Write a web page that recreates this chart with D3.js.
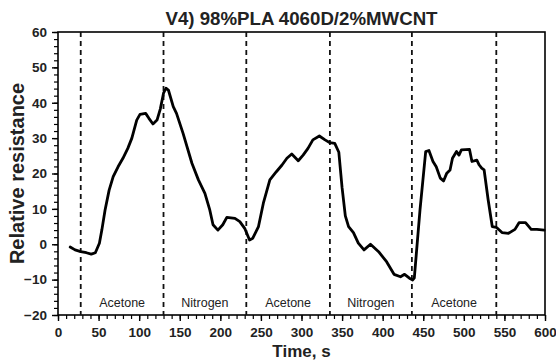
<!DOCTYPE html>
<html>
<head>
<meta charset="utf-8">
<script src="https://cdn.jsdelivr.net/npm/d3@7"></script>
<style>
  body { margin: 0; background: #fff; }
  svg { font-family: "Liberation Sans", Arial, sans-serif; }
</style>
</head>
<body>
<svg id="chart" width="556" height="360"></svg>
<script>
// time (s) and relative resistance
const timeS = [15, 21, 28, 35, 41, 46, 51, 54, 58, 63, 68, 74, 80, 86, 91, 97, 101, 108, 112, 117,
  122, 126, 130, 133, 136, 142, 146, 154, 165, 173, 181, 187, 191, 197, 203, 208, 218, 224, 230, 236,
  240, 247, 253, 261, 269, 276, 282, 288, 296, 302, 308, 314, 322, 329, 335, 341, 346, 350, 354, 358,
  364, 370, 377, 385, 395, 405, 414, 422, 427, 433, 437, 439, 446, 453, 457, 462, 466, 471, 475, 479,
  483, 486, 491, 494, 497, 507, 510, 516, 519, 522, 525, 530, 535, 540, 547, 555, 563, 568, 576, 583,
  590, 599];
const resistance = [-0.8, -1.6, -2.1, -2.4, -2.8, -2.4, 0.3, 4, 9.7, 15.3, 19.1, 21.9, 24.3, 27.1, 30, 35.1, 36.7, 37, 35.6, 34,
  35.1, 38.2, 42.7, 44.1, 43.6, 38.9, 37, 31.4, 22.9, 18.2, 14.4, 9.7, 5.5, 4, 5.5, 7.6, 7.3, 6.4, 4.5, 1.2,
  1.7, 5, 11.6, 18.2, 20.5, 22.4, 24.3, 25.5, 23.6, 25.2, 27.1, 29.5, 30.6, 29.5, 28.7, 28.5, 26, 16, 8, 5,
  3.3, 0.3, -1.6, 0, -2.1, -5, -8.5, -9.2, -8.5, -9.6, -10.1, -9.5, 9.7, 26.2, 26.5, 23.4, 21.9, 18.7, 17.9, 20.1,
  21, 24.3, 26.2, 25.2, 26.7, 26.8, 23.4, 23.8, 22.4, 21.5, 21, 12.5, 5, 4.8, 3.3, 3.1, 4.2, 6.1, 6.1, 4.2,
  4.2, 4.0];

// gas switch times and phase names
const switchTimes = [28, 130, 232, 335, 436, 540];
const phaseNames = ["Acetone", "Nitrogen", "Acetone", "Nitrogen", "Acetone"];

const xTicks = d3.range(0, 601, 50);
const yTicks = d3.range(-20, 61, 10);

const margin = {top: 32, right: 11, bottom: 45, left: 58};
const width = 556, height = 360;

const svg = d3.select("#chart");

const x = d3.scaleLinear().domain([0, 600]).range([margin.left, width - margin.right]);
const y = d3.scaleLinear().domain([-20, 60]).range([height - margin.bottom, margin.top]);

// minor ticks
const xAxisMinor = d3.axisBottom(x).tickValues(d3.range(0, 601, 10)).tickSize(4).tickFormat("");
const yAxisMinor = d3.axisLeft(y).tickValues(d3.range(-20, 61, 2)).tickSize(4).tickFormat("");

svg.append("g")
    .attr("transform", `translate(0,${y(-20)})`)
    .call(xAxisMinor)
    .call(g => g.select(".domain").remove())
    .selectAll("line").attr("stroke-width", 1.2);

svg.append("g")
    .attr("transform", `translate(${x(0)},0)`)
    .call(yAxisMinor)
    .call(g => g.select(".domain").remove())
    .selectAll("line").attr("stroke-width", 1.2);

// major ticks + labels
svg.append("g")
    .attr("transform", `translate(0,${y(-20)})`)
    .call(d3.axisBottom(x).tickValues(xTicks).tickSize(6).tickPadding(6))
    .call(g => g.select(".domain").remove())
    .call(g => g.selectAll("line").attr("stroke-width", 1.4))
    .call(g => g.selectAll("text")
        .attr("font-size", 13.5).attr("font-weight", "bold").attr("fill", "#222")
        .attr("font-family", "Liberation Sans, Arial, sans-serif"));

svg.append("g")
    .attr("transform", `translate(${x(0)},0)`)
    .call(d3.axisLeft(y).tickValues(yTicks).tickSize(6).tickPadding(5))
    .call(g => g.select(".domain").remove())
    .call(g => g.selectAll("line").attr("stroke-width", 1.4))
    .call(g => g.selectAll("text")
        .attr("font-size", 13.5).attr("font-weight", "bold").attr("fill", "#222")
        .attr("font-family", "Liberation Sans, Arial, sans-serif"));

// plot frame
svg.append("rect")
    .attr("x", x(0))
    .attr("y", y(60))
    .attr("width", x(600) - x(0))
    .attr("height", y(-20) - y(60))
    .attr("fill", "none")
    .attr("stroke", "#000")
    .attr("stroke-width", 1.6);

// dashed switch lines
svg.selectAll(".switch")
    .data(switchTimes)
    .enter().append("line")
    .attr("class", "switch")
    .attr("x1", d => x(d)).attr("x2", d => x(d))
    .attr("y1", y(60)).attr("y2", y(-20))
    .attr("stroke", "#111")
    .attr("stroke-width", 1.8)
    .attr("stroke-dasharray", "5,4");

// phase labels
svg.selectAll(".phase")
    .data(phaseNames)
    .enter().append("text")
    .attr("class", "phase")
    .attr("x", (d, i) => x((switchTimes[i] + switchTimes[i + 1]) / 2))
    .attr("y", y(-20) - 8)
    .attr("text-anchor", "middle")
    .attr("font-size", 12.5)
    .attr("fill", "#222")
    .text(d => d);

// response curve
const points = timeS.map((t, i) => [t, resistance[i]]);
svg.append("path")
    .datum(points)
    .attr("fill", "none")
    .attr("stroke", "#000")
    .attr("stroke-width", 2.8)
    .attr("stroke-linejoin", "round")
    .attr("stroke-linecap", "round")
    .attr("d", d3.line().x(d => x(d[0])).y(d => y(d[1])));

// titles
svg.append("text")
    .attr("x", (x(0) + x(600)) / 2)
    .attr("y", 25)
    .attr("text-anchor", "middle")
    .attr("font-size", 19)
    .attr("font-weight", "bold")
    .attr("fill", "#222")
    .attr("textLength", 272)
    .attr("lengthAdjust", "spacingAndGlyphs")
    .text("V4) 98%PLA 4060D/2%MWCNT");

svg.append("text")
    .attr("x", (x(0) + x(600)) / 2)
    .attr("y", 357)
    .attr("text-anchor", "middle")
    .attr("font-size", 17)
    .attr("font-weight", "bold")
    .attr("fill", "#222")
    .text("Time, s");

svg.append("text")
    .attr("transform", `translate(24,${(y(60) + y(-20)) / 2}) rotate(-90)`)
    .attr("text-anchor", "middle")
    .attr("font-size", 20)
    .attr("font-weight", "bold")
    .attr("fill", "#222")
    .text("Relative resistance");
</script>
</body>
</html>
